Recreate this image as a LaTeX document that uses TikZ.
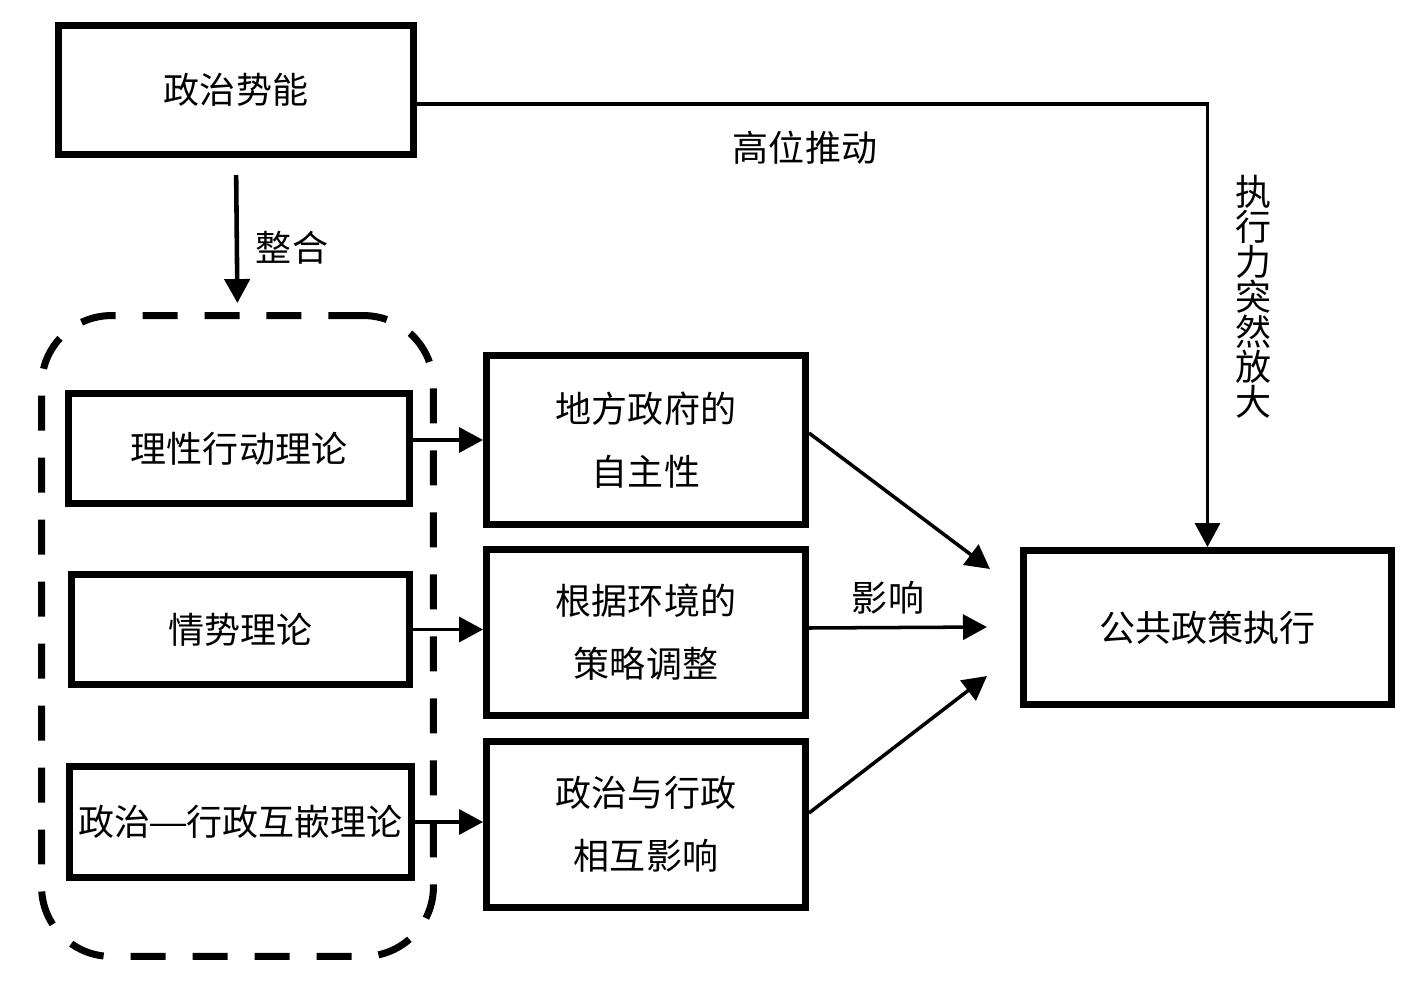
\documentclass[tikz,border=0pt]{standalone}
\usepackage{fontspec}
\newfontfamily\cjk{Noto Sans CJK SC}
\usetikzlibrary{arrows.meta}
\begin{document}
\begin{tikzpicture}[x=0.02cm,y=-0.02cm,
  every node/.style={font=\cjk\fontsize{20.5}{36}\selectfont},
  box/.style={draw,line width=4pt,align=center,inner sep=0pt},
  conn/.style={line width=2pt,-{Triangle[length=0.48cm,width=0.5cm]}}]
\useasboundingbox (0,0) rectangle (1417,981);
% top box and the dashed group
\node [box,minimum width=7.1cm,minimum height=2.58cm] (pot) at (236,90) {政治势能};
\node [draw,dashed,line width=4pt,dash pattern=on 0.7cm off 0.54cm,rounded corners=1.4cm,
  minimum width=7.84cm,minimum height=12.82cm] (grp) at (237.5,636) {};
% theories
\node [box,minimum width=6.82cm,minimum height=2.2cm] (rat) at (239,448.5) {理性行动理论};
\node [box,minimum width=6.76cm,minimum height=2.2cm] (sit) at (240.5,629.5) {情势理论};
\node [box,minimum width=6.84cm,minimum height=2.22cm] (emb) at (240.5,822) {政治\makebox[1em]{\scalebox{1.25}[1]{—}}行政互嵌理论};
% middle column
\node [box,minimum width=6.38cm,minimum height=3.38cm] (auto) at (646,440) {地方政府的\\自主性};
\node [box,minimum width=6.38cm,minimum height=3.32cm] (adj) at (646,632.5) {根据环境的\\策略调整};
\node [box,minimum width=6.38cm,minimum height=3.32cm] (inter) at (646,824.5) {政治与行政\\相互影响};
% result
\node [box,minimum width=7.36cm,minimum height=3.08cm] (exec) at (1207.5,627.5) {公共政策执行};
\coordinate (in1) at (990,569);
\coordinate (in2) at (987,627);
\coordinate (in3) at (987,676);
% connectors
\draw [conn,line width=2.6pt,shorten <=0.34cm,shorten >=0.18cm] (pot.south) -- (grp.north);
\node (integ) at (292,248) {整合};
\draw [conn] ([yshift=-0.28cm]pot.east) -| (exec.north);
\node (push) at (805,148) {高位推动};
\node [font=\cjk\fontsize{20.5}{19.9}\selectfont,align=center] (amp) at (1253,297) {执\\行\\力\\突\\然\\放\\大};
\draw [conn] (auto.west -| rat.east) -- (auto.west);
\draw [conn] (sit.east) -- (sit.east -| adj.west);
\draw [conn] (emb.east) -- (emb.east -| inter.west);
\draw [conn] ([yshift=0.14cm]auto.east) -- (in1);
\draw [conn] ([yshift=0.09cm]adj.east) -- (in2);
\draw [conn] ([yshift=0.23cm]inter.east) -- (in3);
\node (infl) at (888,598) {影响};
\end{tikzpicture}
\end{document}
